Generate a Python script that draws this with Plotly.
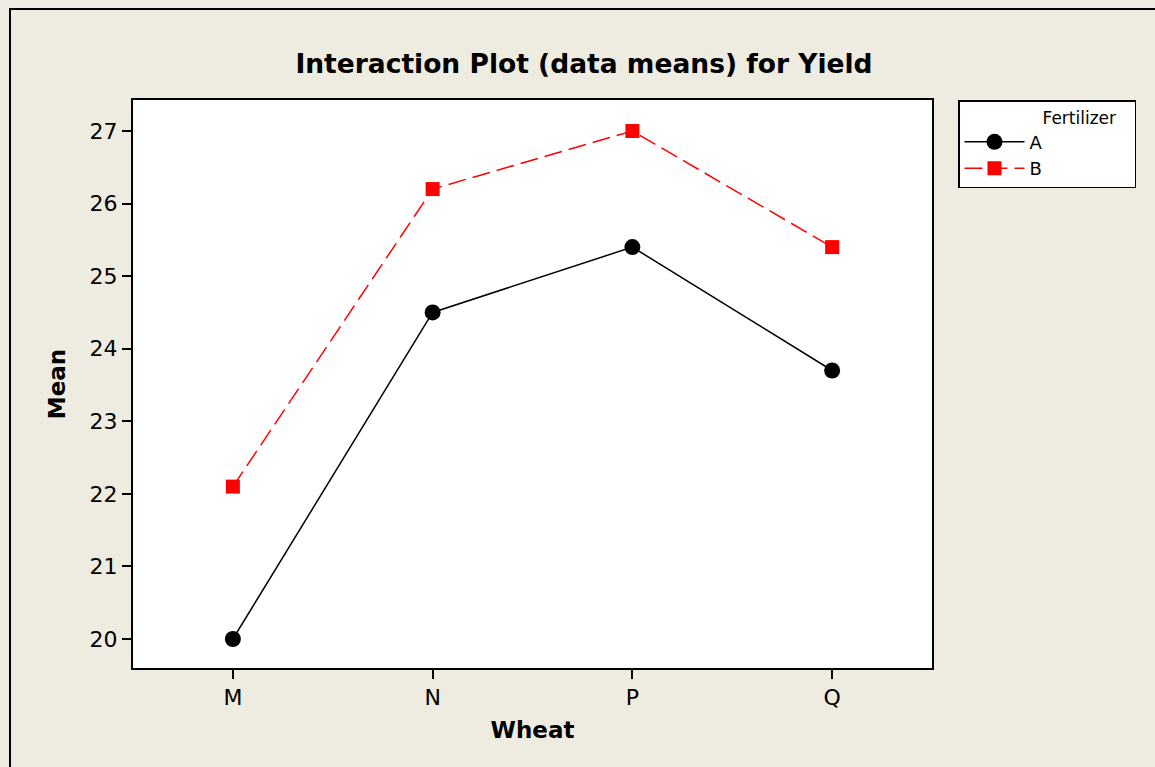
import plotly.graph_objects as go

wheat = ["M", "N", "P", "Q"]
fert_a = [20.0, 24.5, 25.4, 23.7]
fert_b = [22.1, 26.2, 27.0, 25.4]
y_ticks = [20, 21, 22, 23, 24, 25, 26, 27]

FONT = "DejaVu Sans"
BG = "#EEEBE0"

fig = go.Figure()
fig.add_trace(go.Scatter(
    x=wheat, y=fert_a, name="A", mode="lines+markers",
    line=dict(color="black", width=1.5),
    marker=dict(symbol="circle", size=16, color="black"),
))
fig.add_trace(go.Scatter(
    x=wheat, y=fert_b, name="B", mode="lines+markers",
    line=dict(color="#FF0000", width=1.5, dash="18px,7px"),
    marker=dict(symbol="square", size=14, color="#FF0000"),
))

L, R, T, B = 133, 932, 100, 668
W, H = 1155, 767

NB = "&nbsp;"
fig.update_layout(
    width=W, height=H,
    margin=dict(l=L, r=W - R, t=T, b=H - B),
    paper_bgcolor=BG, plot_bgcolor="white",
    font=dict(family=FONT, color="black"),
    title=dict(text="<b>Interaction Plot (data means) for Yield</b>",
               x=584 / W, xref="container", xanchor="center",
               y=1 - 64 / H, yref="container", yanchor="middle",
               font=dict(size=26.5, family=FONT)),
    legend=dict(
        x=(958 - L) / (R - L), xanchor="left",
        y=1, yanchor="top",
        bgcolor="white", bordercolor="black", borderwidth=1.5,
        font=dict(size=18, family=FONT),
        title=dict(text=NB * 15 + "Fertilizer" + NB * 3,
                   font=dict(size=17, family=FONT)),
        itemwidth=60, tracegroupgap=0,
    ),
    showlegend=True,
)

fig.update_xaxes(
    type="category", range=[-0.5, 3.5],
    showline=True, linecolor="black", linewidth=2, mirror=True,
    ticks="outside", ticklen=9, tickwidth=2, tickcolor="black",
    tickfont=dict(size=22), showgrid=False, zeroline=False,
    title=dict(text="<b>Wheat</b>", font=dict(size=23), standoff=12),
)
fig.update_yaxes(
    range=[20 - 29 / 72.57, 27 + 31 / 72.57],
    tickvals=y_ticks,
    showline=True, linecolor="black", linewidth=2, mirror=True,
    ticks="outside", ticklen=9, tickwidth=1.5, tickcolor="black",
    tickfont=dict(size=22), showgrid=False, zeroline=False,
    title=dict(text="<b>Mean</b>", font=dict(size=23), standoff=18),
)

# outer frame of the graph window
fig.add_shape(type="rect", xref="paper", yref="paper",
              x0=(10 - L) / (R - L), x1=(W + 20 - L) / (R - L),
              y0=-(H + 20 - B) / (B - T), y1=1 + (T - 9) / (B - T),
              line=dict(color="black", width=2), layer="below")

fig.write_html(
    "out.html",
    config={"displayModeBar": False},
    post_script="document.body.style.margin='0';document.body.style.padding='0';"
                "document.body.style.overflow='hidden';",
)
